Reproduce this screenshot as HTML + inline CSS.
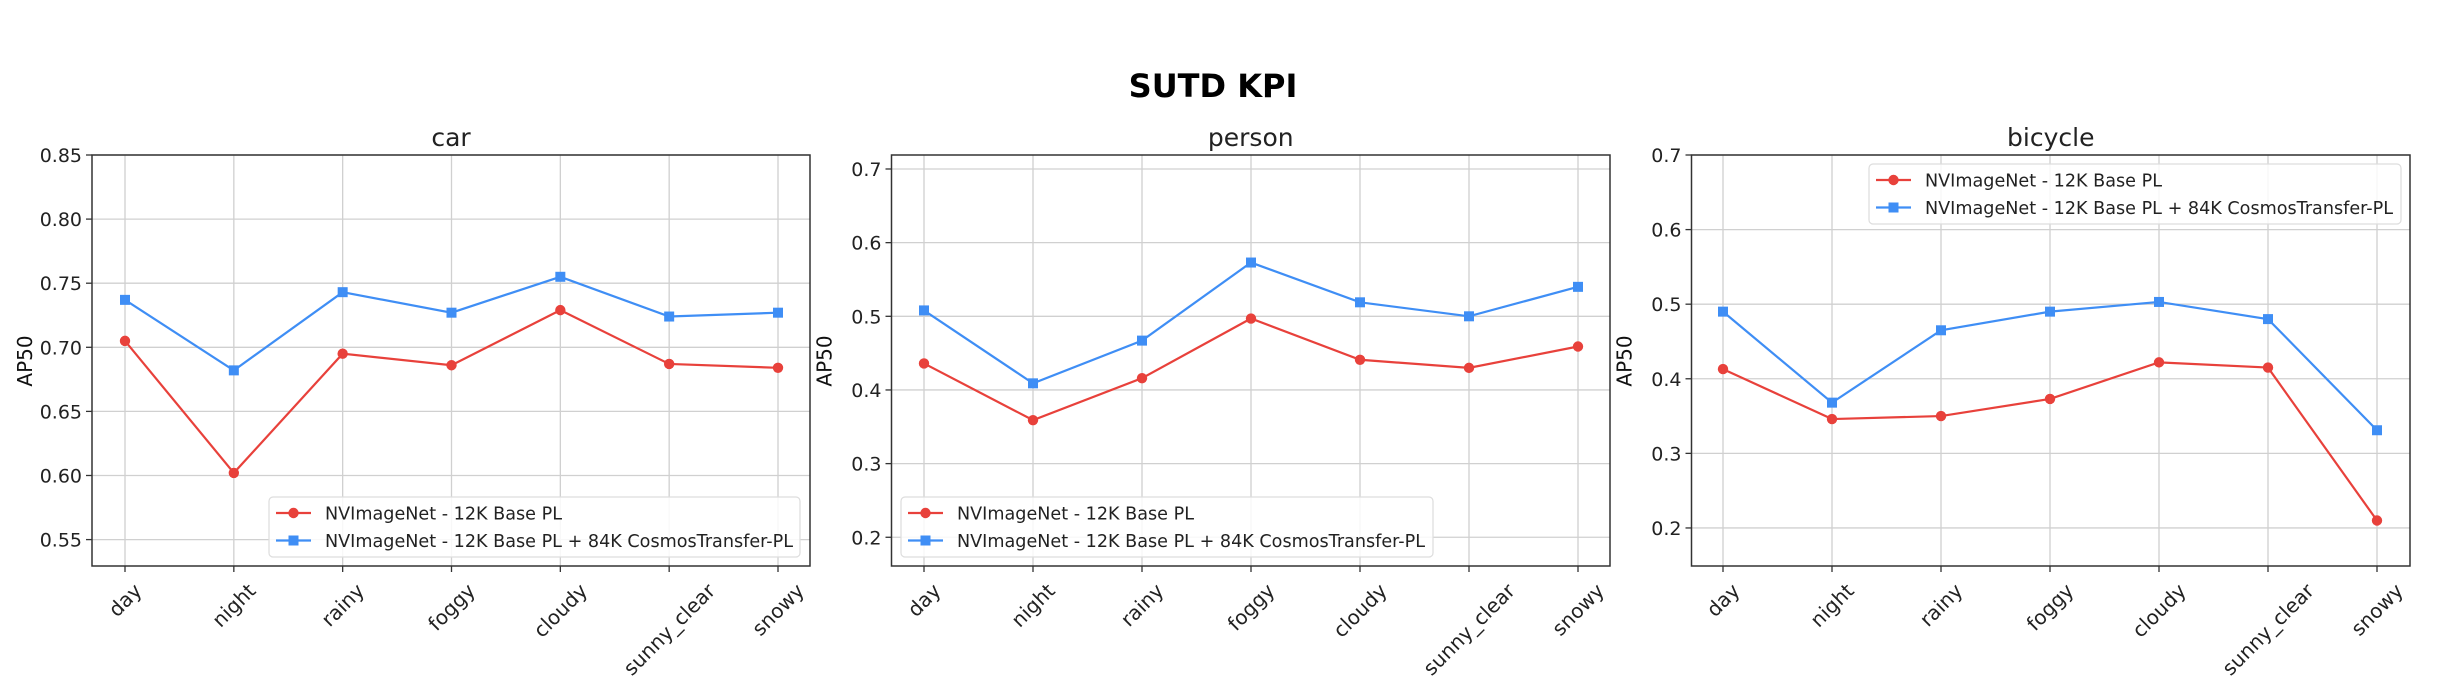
<!DOCTYPE html>
<html><head><meta charset="utf-8">
<style>
html,body{margin:0;padding:0;background:#fff;}
svg{display:block;}
text{font-family:"DejaVu Sans","Liberation Sans",sans-serif;fill:#222;}
</style></head>
<body>
<svg id="s" width="2446" height="691" viewBox="0 0 2446 691" xmlns="http://www.w3.org/2000/svg">
<text x="1213" y="97" text-anchor="middle" font-size="32" font-weight="bold" fill="#000" style="fill:#000">SUTD KPI</text>
</svg>
<script>
const NS="http://www.w3.org/2000/svg";
const svg=document.getElementById('s');
function el(t,a,txt){const e=document.createElementNS(NS,t);for(const k in a)e.setAttribute(k,a[k]);if(txt!==undefined)e.textContent=txt;svg.appendChild(e);return e;}
const cats=["day","night","rainy","foggy","cloudy","sunny_clear","snowy"];
const plots=[
 {title:"car",L:92,R:810,x0:125,x6:778,ymin:0.5294,ymax:0.85,ticks:[0.55,0.60,0.65,0.70,0.75,0.80,0.85],fmt:2,
  red:[.705,.602,.695,.686,.729,.687,.684],blue:[.737,.682,.743,.727,.755,.724,.727],leg:[269,497,531]},
 {title:"person",L:891.5,R:1610,x0:924,x6:1578,ymin:0.161,ymax:0.719,ticks:[0.2,0.3,0.4,0.5,0.6,0.7],fmt:1,
  red:[.436,.359,.416,.497,.441,.430,.459],blue:[.508,.409,.467,.573,.519,.500,.540],leg:[901,497,532]},
 {title:"bicycle",L:1691.5,R:2410,x0:1723,x6:2377,ymin:0.149,ymax:0.7,ticks:[0.2,0.3,0.4,0.5,0.6,0.7],fmt:1,
  red:[.413,.346,.350,.373,.422,.415,.210],blue:[.490,.368,.465,.490,.503,.480,.331],leg:[1869,164,532]}
];
const T=155,B=566;
plots.forEach(p=>{
  const X=i=>p.x0+(p.x6-p.x0)*i/6;
  const Y=v=>B-(v-p.ymin)/(p.ymax-p.ymin)*(B-T);
  cats.forEach((c,i)=>el('line',{x1:X(i),x2:X(i),y1:T,y2:B,stroke:'#d0d0d0','stroke-width':1.3}));
  p.ticks.forEach(v=>el('line',{x1:p.L,x2:p.R,y1:Y(v),y2:Y(v),stroke:'#d0d0d0','stroke-width':1.3}));
  el('rect',{x:p.L,y:T,width:p.R-p.L,height:B-T,fill:'none',stroke:'#333','stroke-width':1.5});
  p.ticks.forEach(v=>{el('line',{x1:p.L-6,x2:p.L,y1:Y(v),y2:Y(v),stroke:'#333','stroke-width':1.3});
    el('text',{x:p.L-10,y:Y(v)+7,'text-anchor':'end','font-size':19},v.toFixed(p.fmt));});
  cats.forEach((c,i)=>{el('line',{x1:X(i),x2:X(i),y1:B,y2:B+6,stroke:'#333','stroke-width':1.3});
    const t=el('text',{'font-size':20,'text-anchor':'middle','dominant-baseline':'central'},c);
    const w=t.getComputedTextLength();const h=(w+20)*0.7071;
    t.setAttribute('transform',`translate(${X(i)},${580+h/2}) rotate(-45)`);});
  el('text',{x:(p.L+p.R)/2,y:146,'text-anchor':'middle','font-size':25},p.title);
  el('text',{transform:`translate(${p.L-60},361) rotate(-90)`,'text-anchor':'middle','font-size':20,style:'fill:#111'},'AP50');
  [['red','#e8413b',false],['blue','#3f8ef5',true]].forEach(([k,col,sq])=>{
    el('polyline',{points:p[k].map((v,i)=>X(i)+','+Y(v)).join(' '),fill:'none',stroke:col,'stroke-width':2.2});
    p[k].forEach((v,i)=>{ if(sq) el('rect',{x:X(i)-5,y:Y(v)-5,width:10,height:10,fill:col});
      else el('circle',{cx:X(i),cy:Y(v),r:5.2,fill:col});});
  });
  const [lx,ly,lw]=p.leg;
  el('rect',{x:lx,y:ly,width:lw,height:60,rx:4,fill:'#fff','fill-opacity':0.85,stroke:'#ddd','stroke-width':1.2});
  [['#e8413b',false,'NVImageNet - 12K Base PL',237],['#3f8ef5',true,'NVImageNet - 12K Base PL + 84K CosmosTransfer-PL',468]].forEach(([col,sq,txt,tl],j)=>{
    const yy=ly+16+j*27.5;
    el('line',{x1:lx+7,x2:lx+42,y1:yy,y2:yy,stroke:col,'stroke-width':2.2});
    if(sq) el('rect',{x:lx+19.5,y:yy-5,width:10,height:10,fill:col}); else el('circle',{cx:lx+24.5,cy:yy,r:5.2,fill:col});
    el('text',{x:lx+56,y:yy+6.5,'font-size':18,textLength:tl,lengthAdjust:'spacingAndGlyphs'},txt);
  });
});
</script>
</body></html>
